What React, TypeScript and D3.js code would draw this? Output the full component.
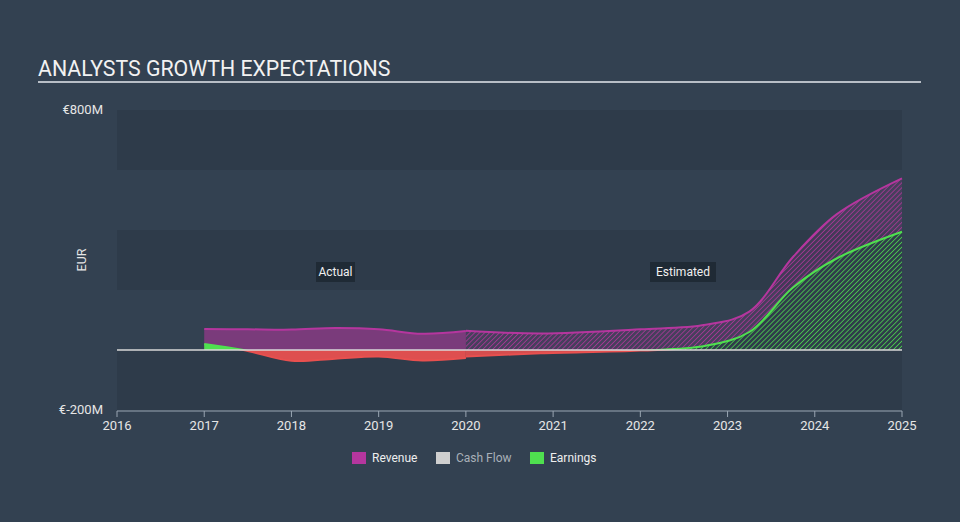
import React from "react";
import * as d3 from "d3";

const yTickLabels = ["€800M", "€-200M"];
const yTickValues = [800, -200];
const xTickYears = [2016, 2017, 2018, 2019, 2020, 2021, 2022, 2023, 2024, 2025];
const bandStarts = [600, 200, -200];

const revenueActualYears = [2017, 2017.5, 2018, 2018.5, 2019, 2019.5, 2020];
const revenueActualValues = [70, 69, 68, 73, 69, 54, 63];
const earningsActualYears = [2017, 2017.45, 2018, 2018.5, 2019, 2019.5, 2020];
const earningsActualValues = [20, 0, -36, -29, -22, -35, -27];

const revenueEstYears = [2020, 2020.86, 2022, 2022.75, 2023.25, 2023.75, 2024.25, 2025];
const revenueEstValues = [64, 55, 69, 84, 128, 310, 452, 572];
const earningsEstYears = [2020, 2020.86, 2022, 2022.75, 2023.25, 2023.75, 2024.25, 2025];
const earningsEstValues = [-22, -11, -2, 14, 60, 208, 305, 394];

const legendLabels = ["Revenue", "Cash Flow", "Earnings"];
const legendColors = ["#b5369e", "#cfcfcf", "#4fe04f"];

const W = 960, H = 522;
const x = d3.scaleLinear().domain([2016, 2025]).range([117, 902]);
const y = d3.scaleLinear().domain([-200, 800]).range([410, 110]);

const REV = "#b5369e";
const GREEN = "#4fe04f";
const RED = "#e8504f";

function pts(years: number[], vals: number[]): [number, number][] {
  return years.map((yr, i) => [yr, vals[i]]);
}

export default function App() {
  const curve = d3.curveCatmullRom.alpha(0.5);
  const line = d3.line<[number, number]>().x(d => x(d[0])).y(d => y(d[1])).curve(curve);
  const area = d3.area<[number, number]>().x(d => x(d[0])).y0(y(0)).y1(d => y(d[1])).curve(curve);

  const ra = pts(revenueActualYears, revenueActualValues);
  const ea = pts(earningsActualYears, earningsActualValues);
  const re = pts(revenueEstYears, revenueEstValues);
  const ee = pts(earningsEstYears, earningsEstValues);
  const font = "Roboto, 'Open Sans', sans-serif";

  return (
    <svg width={W} height={H} style={{ position: "absolute", left: 0, top: 0 }} fontFamily={font}>
      <defs>
        <pattern id="hatchRev" patternUnits="userSpaceOnUse" width="3.5" height="3.5" patternTransform="rotate(45)">
          <line x1="0" y1="0" x2="0" y2="3.5" stroke={REV} strokeWidth="1.7" />
        </pattern>
        <pattern id="hatchGreen" patternUnits="userSpaceOnUse" width="3.5" height="3.5" patternTransform="rotate(45)">
          <line x1="0" y1="0" x2="0" y2="3.5" stroke={GREEN} strokeWidth="1.7" />
        </pattern>
        <clipPath id="above">
          <rect x={0} y={0} width={W} height={y(0)} />
        </clipPath>
        <clipPath id="below">
          <rect x={0} y={y(0)} width={W} height={H} />
        </clipPath>
      </defs>
      <rect x={0} y={0} width={W} height={H} fill="#334151" />
      {bandStarts.map(b => (
        <rect key={b} x={x(2016)} y={y(b + 200)} width={x(2025) - x(2016)} height={y(b) - y(b + 200)} fill="#2e3b4a" />
      ))}
      <text x={38} y={76} fill="#f2f2f2" fontSize={21.3}>ANALYSTS GROWTH EXPECTATIONS</text>
      <rect x={38} y={81} width={883} height={2} fill="#b8bec6" />

      {yTickValues.map((v, i) => (
        <text key={v} x={103} y={y(v) + 4} fill="#e6e6e6" fontSize={13} textAnchor="end">{yTickLabels[i]}</text>
      ))}
      <text transform={`translate(86,${y(300)}) rotate(-90)`} fill="#e6e6e6" fontSize={12.5} textAnchor="middle">EUR</text>

      {/* actual */}
      <path d={area(ra) || ""} fill={REV} fillOpacity={0.55} />
      <path d={area(ea) || ""} fill={GREEN} clipPath="url(#above)" />
      <path d={area(ea) || ""} fill={RED} fillOpacity={0.95} clipPath="url(#below)" />
      <path d={line(ra) || ""} fill="none" stroke={REV} strokeWidth={2} />
      <path d={line(ea) || ""} fill="none" stroke={GREEN} strokeWidth={2} clipPath="url(#above)" />
      <path d={line(ea) || ""} fill="none" stroke={RED} strokeWidth={2} clipPath="url(#below)" />

      {/* estimated */}
      <path d={area(re) || ""} fill={REV} fillOpacity={0.15} />
      <path d={area(re) || ""} fill="url(#hatchRev)" fillOpacity={0.85} />
      <path d={area(ee) || ""} fill="#2f3c4a" clipPath="url(#above)" />
      <path d={area(ee) || ""} fill="url(#hatchGreen)" fillOpacity={0.85} clipPath="url(#above)" />
      <path d={area(ee) || ""} fill={RED} fillOpacity={0.9} clipPath="url(#below)" />
      <path d={line(re) || ""} fill="none" stroke={REV} strokeWidth={2} />
      <path d={line(ee) || ""} fill="none" stroke={GREEN} strokeWidth={2} clipPath="url(#above)" />
      <path d={line(ee) || ""} fill="none" stroke={RED} strokeWidth={2} clipPath="url(#below)" />

      <line x1={x(2016)} x2={x(2025)} y1={y(0)} y2={y(0)} stroke="#d9d9d9" strokeWidth={1.5} />

      {/* x axis */}
      <line x1={x(2016)} x2={x(2025)} y1={411} y2={411} stroke="#9aa6b3" strokeWidth={1} />
      {xTickYears.map(t => (
        <g key={t}>
          <line x1={x(t)} x2={x(t)} y1={411} y2={417} stroke="#9aa6b3" strokeWidth={1} />
          <text x={x(t)} y={430} fill="#e6e6e6" fontSize={13} textAnchor="middle">{t}</text>
        </g>
      ))}

      {/* labels */}
      <rect x={316} y={262} width={39} height={20} fill="#1f2a35" />
      <text x={335.5} y={276} fill="#f0f0f0" fontSize={12} textAnchor="middle">Actual</text>
      <rect x={650} y={262} width={66} height={20} fill="#1f2a35" />
      <text x={683} y={276} fill="#f0f0f0" fontSize={12} textAnchor="middle">Estimated</text>

      {/* legend */}
      {legendLabels.map((lbl, i) => {
        const lx = [352, 436, 530][i];
        return (
          <g key={lbl}>
            <rect x={lx} y={452} width={14} height={12} fill={legendColors[i]} />
            <text x={lx + 20} y={462} fill={i === 1 ? "#a9b0b8" : "#eeeeee"} fontSize={12}>{lbl}</text>
          </g>
        );
      })}
    </svg>
  );
}
